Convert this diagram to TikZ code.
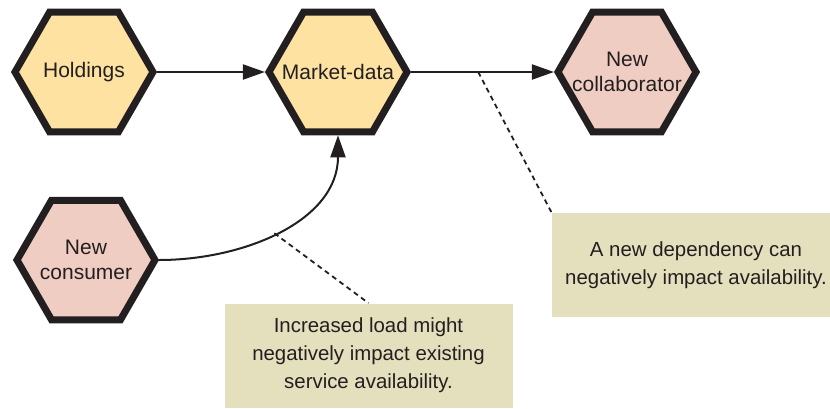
\documentclass[tikz,border=0pt]{standalone}
\usepackage{fontspec}
\setmainfont{Liberation Sans}
\usetikzlibrary{arrows.meta,shapes.geometric}

\begin{document}
\begin{tikzpicture}[x=0.5pt, y=-0.5pt,
    hexa/.style={regular polygon, regular polygon sides=6, minimum size=69pt,
      inner sep=0pt, draw=inkdark, line width=3.5pt,
      label={[hexlabel]center:#1}},
    hexlabel/.style={align=center, text=inkdark, inner sep=0pt,
      font=\fontsize{10.5}{12.8}\selectfont},
    note/.style={fill=notefill, minimum width=144pt, minimum height=52pt,
      inner sep=0pt, align=center, text=inkdark, font=\fontsize{10.2}{14}\selectfont},
    flow/.style={-{Triangle[length=11pt,width=7.5pt]}, line width=1pt, draw=inkdark},
    hint/.style={dash pattern=on 2.5pt off 2pt, line width=0.9pt, draw=inkdark}]
  \definecolor{inkdark}{HTML}{231F20}
  \definecolor{hexyellow}{HTML}{FDE2A2}
  \definecolor{hexpink}{HTML}{EFCDC3}
  \definecolor{notefill}{HTML}{E4DFBC}

  \useasboundingbox (0,0) rectangle (830,408);

  %--- services ---
  \node[hexa={Holdings},          fill=hexyellow] (hold)   at (84,72)  {};
  \node[hexa={Market-data},       fill=hexyellow] (mkt)    at (338,72) {};
  \node[hexa={New\\collaborator}, fill=hexpink]   (collab) at (627,72) {};
  \node[hexa={New\\consumer},     fill=hexpink]   (cons)   at (86,260) {};

  %--- notes ---
  \node[note] (loadnote) at (368.5,355.5) {Increased load might\\negatively impact existing\\service availability.};
  \node[note] (depnote)  at (696,265)     {A new dependency can\\negatively impact availability.};

  %--- calls ---
  \draw[flow] (hold) -- (mkt);
  \draw[flow] (mkt) -- coordinate[pos=0.47] (deptap) (collab);
  \draw[flow] (cons.east) to[out=0, in=-90] coordinate[pos=0.47] (loadtap) (mkt.south);

  %--- note pointers ---
  \draw[hint] (deptap) -- (depnote.north west);
  \draw[hint] (loadtap) -- (loadnote.north);

\end{tikzpicture}
\end{document}
